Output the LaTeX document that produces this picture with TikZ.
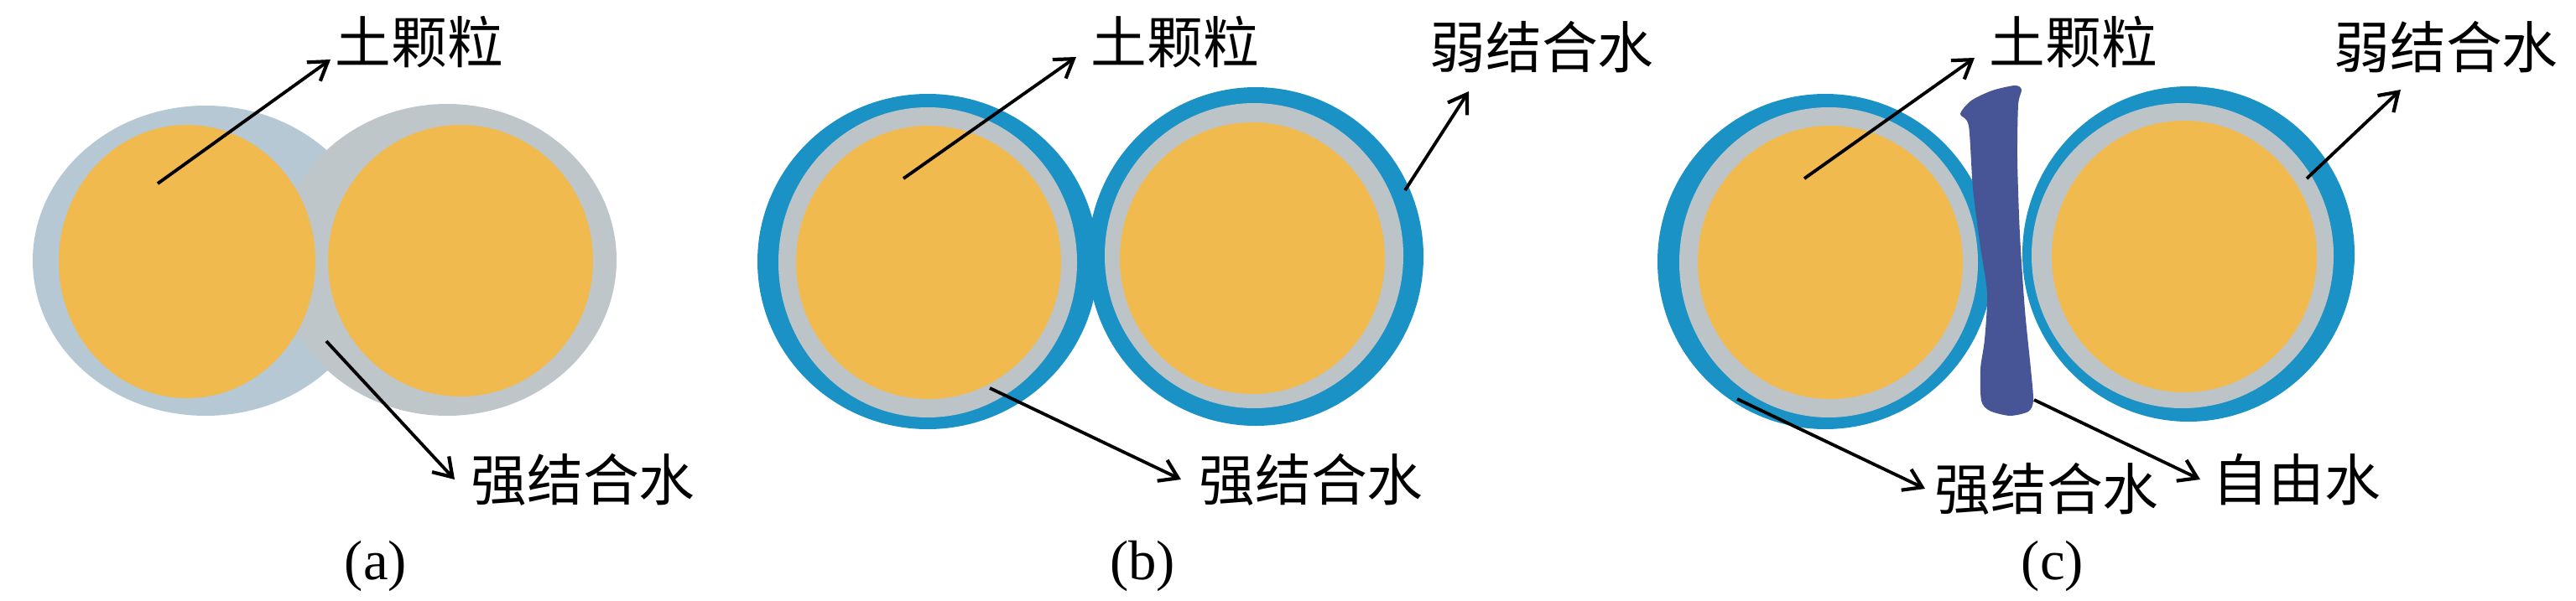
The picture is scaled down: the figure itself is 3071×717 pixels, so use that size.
\documentclass[tikz,border=0pt]{standalone}
\usepackage{fontspec}
\setmainfont{Liberation Serif}
\newfontfamily\cjk{Noto Sans CJK SC}
\usetikzlibrary{arrows.meta}
\definecolor{soil}{HTML}{F1BA4E}
\definecolor{ringgrey}{HTML}{BDC4C8}
\definecolor{weakblue}{HTML}{1A92C6}
\definecolor{freeblue}{HTML}{475596}
\definecolor{greyA}{HTML}{B6C8D3}
\definecolor{greyB}{HTML}{BEC6CA}
\tikzset{
  lbl/.style={font=\cjk\fontsize{38}{40}\selectfont, inner sep=0pt},
  panelcap/.style={font=\fontsize{38}{40}\selectfont, inner sep=0pt},
  pointer/.style={line width=2.2pt, -{Straight Barb[length=0.42cm,width=0.55cm,line width=2.4pt]}}
}
\begin{document}
\begin{tikzpicture}[x=0.02cm,y=0.02cm]
\useasboundingbox (0,0) rectangle (3071,-717);
\fill[white] (0,0) rectangle (3071,-717);
% ---------- panel (a)
\fill[greyA] (245,-311) ellipse [x radius=206, y radius=185];
\fill[greyB] (533,-310) ellipse [x radius=202, y radius=186];
\fill[soil] (223,-312) ellipse [x radius=153, y radius=163];
\fill[soil] (549,-311) ellipse [x radius=158, y radius=162];
% ---------- panel (b)
\fill[weakblue] (1106,-312) ellipse [x radius=203, y radius=200];
\fill[weakblue] (1497,-306) ellipse [x radius=200, y radius=202];
\fill[ringgrey] (1106,-313) ellipse [x radius=178, y radius=185];
\fill[ringgrey] (1495,-305) ellipse [x radius=178, y radius=182];
\fill[soil] (1107,-313) ellipse [x radius=158, y radius=163];
\fill[soil] (1493,-308) ellipse [x radius=158, y radius=162];
% ---------- panel (c)
\fill[weakblue] (2176,-312) ellipse [x radius=200, y radius=200];
\fill[weakblue] (2609,-303) ellipse [x radius=198, y radius=200];
\fill[ringgrey] (2180,-313) ellipse [x radius=178, y radius=185];
\fill[ringgrey] (2602,-305) ellipse [x radius=180, y radius=182];
\fill[soil] (2182,-313) ellipse [x radius=158, y radius=163];
\fill[soil] (2604,-306) ellipse [x radius=158, y radius=162];
\fill[freeblue] plot[smooth cycle, tension=0.45] coordinates {
  (2337,-136) (2350,-120) (2375,-108) (2402,-102) (2410,-107) (2406,-125)
  (2405,-190) (2408,-280) (2414,-370) (2421,-440) (2424,-478) (2418,-491)
  (2396,-496) (2372,-490) (2362,-478) (2361,-440) (2366,-405) (2369,-350)
  (2361,-295) (2352,-225) (2347,-150)};
% ---------- labels
\node[lbl] (a_soil) at (500,-50) {土颗粒};
\node[lbl] (a_strong) at (695,-572) {强结合水};
\node[panelcap] (a_cap) at (448,-675) {(a)};
\node[lbl] (b_soil) at (1401,-50) {土颗粒};
\node[lbl] (b_weak) at (1838,-56) {弱结合水};
\node[lbl] (b_strong) at (1563,-572) {强结合水};
\node[panelcap] (b_cap) at (1362,-675) {(b)};
\node[lbl] (c_soil) at (2472,-50) {土颗粒};
\node[lbl] (c_weak) at (2916,-56) {弱结合水};
\node[lbl] (c_strong) at (2440,-583) {强结合水};
\node[lbl] (c_free) at (2738,-572) {自由水};
\node[panelcap] (c_cap) at (2447,-675) {(c)};
% ---------- connector end points
\coordinate (a1s) at (188,-219); \coordinate (a1e) at (394,-71);
\coordinate (a2s) at (389,-407); \coordinate (a2e) at (542,-572);
\coordinate (b1s) at (1077,-213); \coordinate (b1e) at (1283,-68);
\coordinate (b2s) at (1180,-463); \coordinate (b2e) at (1408,-572);
\coordinate (b3s) at (1675,-227); \coordinate (b3e) at (1751,-109);
\coordinate (c1s) at (2151,-213); \coordinate (c1e) at (2354,-69);
\coordinate (c2s) at (2071,-476); \coordinate (c2e) at (2295,-583);
\coordinate (c3s) at (2425,-477); \coordinate (c3e) at (2623,-572);
\coordinate (c4s) at (2750,-213); \coordinate (c4e) at (2862,-107);
\draw[pointer] (a1s) -- (a1e);
\draw[pointer] (a2s) -- (a2e);
\draw[pointer] (b1s) -- (b1e);
\draw[pointer] (b2s) -- (b2e);
\draw[pointer] (b3s) -- (b3e);
\draw[pointer] (c1s) -- (c1e);
\draw[pointer] (c2s) -- (c2e);
\draw[pointer] (c3s) -- (c3e);
\draw[pointer] (c4s) -- (c4e);
\end{tikzpicture}
\end{document}
